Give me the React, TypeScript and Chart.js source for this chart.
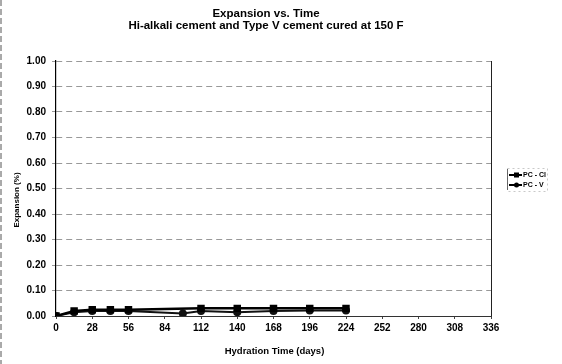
import React, { useEffect, useRef } from "react";
import { Chart, registerables } from "chart.js";

Chart.register(...registerables);

const titleLines = ["Expansion vs. Time", "Hi-alkali cement and Type V cement cured at 150 F"];
const xTitle = "Hydration Time (days)";
const yTitle = "Expansion (%)";
const seriesNames = ["PC - Cl", "PC - V"];

const clDays = [0, 14, 28, 42, 56, 112, 140, 168, 196, 224];
const clValues = [0, 0.02, 0.025, 0.025, 0.025, 0.03, 0.03, 0.03, 0.03, 0.03];
const vDays = [0, 14, 28, 42, 56, 98, 112, 140, 168, 196, 224];
const vValues = [0, 0.015, 0.02, 0.02, 0.02, 0.01, 0.02, 0.015, 0.02, 0.022, 0.022];

const xMin = 0, xMax = 336, xStep = 28;
const yMin = 0, yMax = 1, yStep = 0.1;

const FONT = "'Liberation Sans', Arial, sans-serif";

const decorPlugin = {
  id: "decor",
  afterDraw(chart: any) {
    const { ctx, chartArea: a } = chart;
    ctx.save();
    // right border
    ctx.strokeStyle = "#222";
    ctx.lineWidth = 1;
    ctx.beginPath();
    ctx.moveTo(a.right + 0.5, a.top);
    ctx.lineTo(a.right + 0.5, a.bottom);
    ctx.stroke();
    // left page edge artifact
    ctx.strokeStyle = "#555";
    ctx.setLineDash([6, 3]);
    ctx.beginPath();
    ctx.moveTo(1, 0);
    ctx.lineTo(1, chart.height);
    ctx.stroke();
    ctx.setLineDash([]);
    // title
    ctx.fillStyle = "#000";
    ctx.textAlign = "center";
    ctx.textBaseline = "middle";
    ctx.font = `bold 11.5px ${FONT}`;
    ctx.fillText(titleLines[0], 266, 14);
    ctx.fillText(titleLines[1], 266, 26);
    // x title
    ctx.font = `bold 9.5px ${FONT}`;
    ctx.fillText(xTitle, (a.left + a.right) / 2 + 1, 351);
    // y title
    ctx.font = `bold 8px ${FONT}`;
    ctx.save();
    ctx.translate(17, 200);
    ctx.rotate(-Math.PI / 2);
    ctx.fillText(yTitle, 0, 0);
    ctx.restore();
    // legend
    const lx = a.right + 16, ly = 168;
    ctx.strokeStyle = "#bbb";
    ctx.lineWidth = 0.8;
    ctx.setLineDash([2, 3]);
    ctx.strokeRect(lx + 0.5, ly + 0.5, 40, 23);
    ctx.setLineDash([]);
    ctx.strokeStyle = "#444";
    ctx.beginPath();
    ctx.moveTo(lx + 0.5, ly + 1);
    ctx.lineTo(lx + 0.5, ly + 22);
    ctx.stroke();
    const styles = ["rect", "circle"];
    seriesNames.forEach((name, i) => {
      const y = ly + 7 + i * 10;
      ctx.strokeStyle = "#000";
      ctx.lineWidth = 2;
      ctx.beginPath();
      ctx.moveTo(lx + 2, y);
      ctx.lineTo(lx + 15, y);
      ctx.stroke();
      ctx.fillStyle = "#000";
      if (styles[i] === "rect") ctx.fillRect(lx + 7, y - 2.5, 5, 5);
      else {
        ctx.beginPath();
        ctx.arc(lx + 9.5, y, 2.5, 0, Math.PI * 2);
        ctx.fill();
      }
      ctx.font = `bold 7px ${FONT}`;
      ctx.textAlign = "left";
      ctx.fillText(name, lx + 16, y);
    });
    ctx.restore();
  },
};

export default function App() {
  const ref = useRef<HTMLCanvasElement>(null);
  useEffect(() => {
    if (!ref.current) return;
    const chart = new Chart(ref.current, {
      type: "scatter",
      data: {
        datasets: [
          {
            label: seriesNames[0],
            data: clDays.map((d, i) => ({ x: d, y: clValues[i] })),
            showLine: true,
            borderColor: "#000",
            backgroundColor: "#000",
            borderWidth: 2.5,
            pointStyle: "rect",
            pointRadius: 3.5,
          },
          {
            label: seriesNames[1],
            data: vDays.map((d, i) => ({ x: d, y: vValues[i] })),
            showLine: true,
            borderColor: "#111",
            backgroundColor: "#111",
            borderWidth: 2,
            pointStyle: "circle",
            pointRadius: 3,
          },
        ],
      },
      options: {
        animation: false,
        responsive: false,
        layout: { padding: { top: 61, right: 71, left: 0, bottom: 0 } },
        plugins: { legend: { display: false }, title: { display: false }, tooltip: { enabled: false } },
        scales: {
          x: {
            type: "linear",
            min: xMin,
            max: xMax,
            afterFit: (s: any) => { s.height = 48; },
            ticks: {
              stepSize: xStep,
              color: "#000",
              font: { family: FONT, size: 10, weight: "bold" },
              padding: 3,
              maxRotation: 0,
            },
            grid: { display: true, drawOnChartArea: false, tickLength: 3, color: "#444" },
            border: { color: "#333", width: 1 },
          },
          y: {
            min: yMin,
            max: yMax,
            afterFit: (s: any) => { s.width = 56; },
            ticks: {
              stepSize: yStep,
              color: "#000",
              font: { family: FONT, size: 10, weight: "bold" },
              padding: 6,
              callback: (v: any) => Number(v).toFixed(2),
            },
            grid: { color: "#999", tickLength: 4, lineWidth: 1 },
            border: { color: "#000", width: 1.2, dash: [6, 4] },
          },
        },
      },
      plugins: [decorPlugin],
    });
    return () => chart.destroy();
  }, []);
  return (
    <div style={{ position: "fixed", left: 0, top: 0, width: 562, height: 364, background: "#fff" }}>
      <canvas ref={ref} width={562} height={364} style={{ width: 562, height: 364 }} />
    </div>
  );
}
